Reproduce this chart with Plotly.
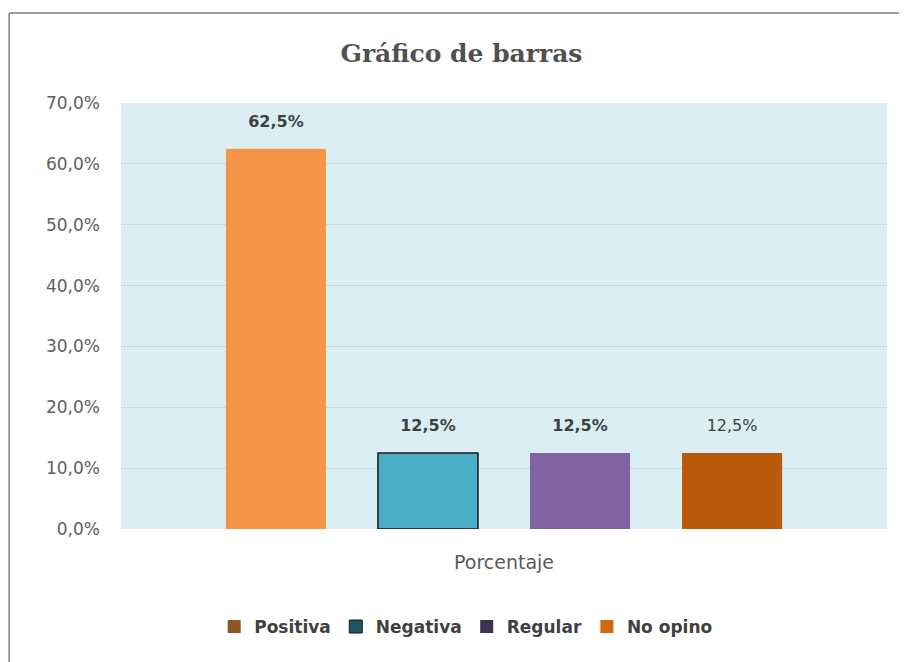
import plotly.graph_objects as go

# data
categoria = ["Porcentaje"]
series = ["Positiva", "Negativa", "Regular", "No opino"]
valores = [0.625, 0.125, 0.125, 0.125]
colores = ["#F79646", "#4BACC6", "#8064A2", "#B9590A"]
colores_leyenda = ["#8E5626", "#1F5562", "#3F3151", "#D0690E"]
etiquetas_negrita = [True, True, True, False]

fig = go.Figure()

for nombre, v, c, negrita in zip(series, valores, colores, etiquetas_negrita):
    fig.add_trace(go.Bar(
        x=categoria,
        y=[v],
        name=nombre,
        marker=dict(color=c,
                    line=dict(color="#1a1a1a" if nombre == "Negativa" else c,
                              width=1.5 if nombre == "Negativa" else 0)),
        texttemplate="<span style='font-size:16px'>%{y:.1%}</span><br>\u00a0",
        textposition="outside",
        textfont=dict(family="DejaVu Sans", size=12, color="#404040",
                      weight="bold" if negrita else "normal"),
        cliponaxis=False,
        showlegend=False,
    ))

# legend swatches (darker, like the original)
for nombre, c in zip(series, colores_leyenda):
    fig.add_trace(go.Scatter(
        x=[None], y=[None], name=nombre, mode="markers",
        marker=dict(symbol="square", size=13, color=c,
                    line=dict(color="#1a1a1a", width=1 if nombre == "Negativa" else 0)),
    ))

fig.update_layout(
    width=907, height=662,
    separators=",.",
    barmode="group",
    bargap=0.206,
    bargroupgap=0.342,
    paper_bgcolor="white",
    plot_bgcolor="#DAEEF3",
    margin=dict(l=113, r=28, t=95, b=141),
    title=dict(text="<b>Gráfico de barras</b>", x=0.5, xanchor="center",
               y=0.931, yanchor="middle",
               font=dict(family="DejaVu Serif", size=25, color="#505050")),
    font=dict(family="DejaVu Sans", size=16, color="#595959"),
    legend=dict(orientation="h", x=0.45, xanchor="center", y=-0.230, yanchor="middle",
                font=dict(family="DejaVu Sans", size=17, color="#404040", weight="bold"),
                itemwidth=30, traceorder="normal"),
    showlegend=True,
)

fig.update_yaxes(range=[0, 0.7], dtick=0.1, tickformat=".1%",
                 showgrid=True, gridcolor="#C4D9E0", gridwidth=1,
                 zeroline=False, showline=False,
                 ticklabelstandoff=20,
                 tickfont=dict(family="DejaVu Sans", size=17, color="#606060"))
fig.update_xaxes(showgrid=False, showline=False, ticklabelstandoff=20,
                 tickfont=dict(family="DejaVu Sans", size=19, color="#595959"))

# outer chart frame (left and top edges visible in the original)
fig.add_shape(type="line", xref="paper", yref="paper",
              x0=-0.146, x1=-0.146, y0=1.211, y1=-0.32,
              line=dict(color="#808080", width=1.5))
fig.add_shape(type="line", xref="paper", yref="paper",
              x0=-0.146, x1=1.04, y0=1.211, y1=1.211,
              line=dict(color="#808080", width=1.5))

fig.write_html("out.html")
